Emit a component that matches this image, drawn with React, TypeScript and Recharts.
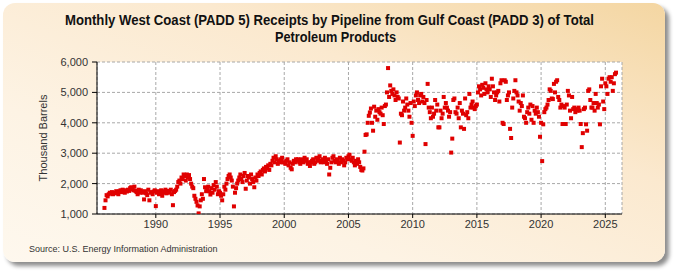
import React from 'react';
import { ScatterChart, Scatter, XAxis, YAxis, CartesianGrid } from 'recharts';

const titleLines = [
  'Monthly West Coast (PADD 5) Receipts by Pipeline from Gulf Coast (PADD 3) of Total',
  'Petroleum Products',
];
const yAxisLabel = 'Thousand Barrels';
const sourceText = 'Source: U.S. Energy Information Administration';

const startYear = 1986;
const yearTicks = [1990, 1995, 2000, 2005, 2010, 2015, 2020, 2025];
const valueTicks = [1000, 2000, 3000, 4000, 5000, 6000];

// Monthly receipts (thousand barrels), Jan..Dec of each year
const y1986 = [1200, 1450, 1620, 1580, 1650, 1700, 1680, 1720, 1650, 1700, 1680, 1750];
const y1987 = [1700, 1650, 1750, 1780, 1720, 1800, 1760, 1700, 1780, 1740, 1800, 1760];
const y1988 = [1850, 1880, 1820, 1780, 1900, 1760, 1720, 1650, 1800, 1700, 1780, 1740];
const y1989 = [1700, 1480, 1750, 1680, 1620, 1800, 1450, 1700, 1720, 1650, 1740, 1780];
const y1990 = [1260, 1700, 1750, 1650, 1720, 1780, 1600, 1700, 1750, 1800, 1680, 1760];
const y1991 = [1750, 1700, 1800, 1650, 1290, 1720, 1760, 1800, 1900, 2050, 2100, 2000];
const y1992 = [2200, 2150, 2300, 2250, 2100, 2300, 2200, 2280, 2150, 2000, 1900, 1850];
const y1993 = [1600, 1500, 1400, 1280, 1020, 1250, 1450, 1650, 1500, 2150, 1880, 1750];
const y1994 = [1800, 1900, 1750, 1640, 1850, 1700, 1950, 1800, 2050, 1900, 1650, 1750];
const y1995 = [1700, 1600, 1450, 1650, 1900, 1800, 2000, 2150, 2250, 2300, 2200, 2100];
const y1996 = [1900, 1250, 1700, 1850, 2000, 2100, 2200, 2300, 2150, 2050, 2250, 2350];
const y1997 = [1830, 2100, 2250, 2200, 2000, 2300, 2150, 2050, 1880, 2200, 2100, 2300];
const y1998 = [2250, 2350, 2400, 2300, 2450, 2500, 2400, 2550, 2500, 2600, 2450, 2650];
const y1999 = [2600, 2750, 2850, 2700, 2900, 2800, 2650, 2750, 2700, 2800, 2850, 2700];
const y2000 = [2700, 2650, 2750, 2800, 2600, 2700, 2520, 2470, 2650, 2750, 2700, 2800];
const y2001 = [2750, 2800, 2700, 2650, 2800, 2750, 2700, 2850, 2750, 2800, 2650, 2700];
const y2002 = [2580, 2700, 2750, 2800, 2650, 2700, 2850, 2750, 2800, 2900, 2700, 2750];
const y2003 = [2800, 2700, 2850, 2750, 2650, 2800, 2300, 2520, 2700, 2850, 2900, 2750];
const y2004 = [2700, 2800, 2750, 2650, 2850, 2700, 2800, 2750, 2600, 2700, 2850, 2800];
const y2005 = [2900, 2950, 2800, 2750, 2850, 2700, 2600, 2750, 2650, 2800, 2700, 2550];
const y2006 = [2450, 2430, 2500, 3050, 3600, 3620, 4000, 4230, 4340, 4470, 4000, 3740];
const y2007 = [4530, 4200, 4400, 4100, 4450, 4350, 4300, 4500, 4250, 3960, 4550, 4600];
const y2008 = [5000, 5800, 4850, 5230, 5050, 4950, 5100, 4900, 4750, 5000, 4850, 4800];
const y2009 = [3350, 4300, 4250, 4700, 4400, 4500, 4800, 4600, 4400, 4200, 4650, 4000];
const y2010 = [3570, 4700, 4550, 4900, 5000, 4750, 4650, 4900, 4950, 4700, 4850, 4650];
const y2011 = [3300, 4750, 5280, 4500, 4350, 4150, 4500, 4200, 4300, 4750, 4400, 4600];
const y2012 = [3850, 3850, 4400, 4150, 4300, 4850, 4500, 4650, 4500, 4400, 4200, 4350];
const y2013 = [3020, 3480, 4750, 4800, 4350, 4300, 4500, 4150, 4650, 3850, 4400, 4300];
const y2014 = [3800, 4800, 4250, 4350, 4150, 4950, 4500, 4600, 4700, 4500, 4450, 4550];
const y2015 = [4600, 5000, 5200, 5100, 4900, 5250, 5150, 4950, 5300, 5100, 5000, 5200];
const y2016 = [5100, 4850, 5450, 5200, 5000, 4750, 4900, 5000, 5050, 4700, 5300, 5400];
const y2017 = [4000, 3960, 5400, 5350, 4750, 4900, 5000, 3800, 3500, 4500, 4800, 5050];
const y2018 = [5400, 5000, 4900, 4700, 4400, 4650, 4550, 4900, 4200, 4150, 4000, 4350];
const y2019 = [4500, 4300, 4600, 4100, 4550, 4000, 4400, 4300, 4500, 4350, 4200, 3540];
const y2020 = [4000, 2740, 3950, 4350, 4450, 4500, 4600, 4750, 5100, 5050, 4800, 4780];
const y2021 = [5280, 5000, 5350, 5400, 4850, 4750, 4500, 4600, 3960, 4550, 4500, 3960];
const y2022 = [4600, 5050, 4900, 4400, 4150, 4850, 4450, 4500, 4350, 4450, 4400, 4500];
const y2023 = [4400, 3960, 3200, 3660, 4450, 4500, 3950, 3740, 5050, 5100, 4750, 4500];
const y2024 = [4500, 4650, 4400, 4950, 4650, 4500, 4600, 3950, 5200, 5450, 4700, 4450];
const y2025 = [5300, 5200, 4950, 5450, 5500, 5350, 5500, 5050, 5300, 5600, 5650];

const yearlySeries = [
  y1986, y1987, y1988, y1989, y1990, y1991, y1992, y1993, y1994, y1995,
  y1996, y1997, y1998, y1999, y2000, y2001, y2002, y2003, y2004, y2005,
  y2006, y2007, y2008, y2009, y2010, y2011, y2012, y2013, y2014, y2015,
  y2016, y2017, y2018, y2019, y2020, y2021, y2022, y2023, y2024, y2025,
];

const data = yearlySeries.flatMap((arr, i) =>
  arr.map((v, m) => ({ t: startYear + i + m / 12, v }))
);

const FONT = '"Liberation Sans", Arial, sans-serif';

const Square = (props: any) => {
  const { cx, cy } = props;
  if (cx == null || cy == null) return null;
  return <rect x={cx - 2} y={cy - 2} width={4} height={4} fill="#e00000" />;
};

export default function App() {
  return (
    <div style={{ position: 'absolute', left: 0, top: 0, width: 675, height: 275, background: '#fff' }}>
      <div
        style={{
          position: 'absolute',
          left: 3,
          top: 3,
          width: 662,
          height: 259,
          borderRadius: 12,
          background: 'linear-gradient(to bottom left, #f4d6a2 0%, #fbe9cf 35%, #fdf3e4 70%, #fef8ee 100%)',
          boxShadow: '4px 4px 4px rgba(0,0,0,0.45)',
        }}
      />
      <div style={{ position: 'absolute', left: 0, top: 0 }}>
        <ScatterChart width={675} height={275} margin={{ top: 62, right: 53, bottom: 31, left: 37 }}>
          <CartesianGrid fill="#ffffff" stroke="#a8a8a8" strokeDasharray="3 2" />
          <XAxis
            type="number"
            dataKey="t"
            domain={[1985.42, 2026.3]}
            ticks={yearTicks}
            allowDataOverflow
            height={30}
            tickSize={4}
            tickMargin={2}
            axisLine={{ stroke: '#000' }}
            tickLine={{ stroke: '#000' }}
            tick={{ fontSize: 11, fill: '#333', fontFamily: FONT }}
          />
          <YAxis
            type="number"
            dataKey="v"
            domain={[1000, 6000]}
            ticks={valueTicks}
            allowDataOverflow
            width={60}
            tickSize={5}
            tickMargin={4}
            axisLine={{ stroke: '#000' }}
            tickLine={{ stroke: '#000' }}
            tickFormatter={(v: number) => v.toLocaleString('en-US')}
            tick={{ fontSize: 11, fill: '#333', fontFamily: FONT }}
          />
          <Scatter data={data} shape={Square} isAnimationActive={false} />
        </ScatterChart>
      </div>
      <svg width={675} height={275} style={{ position: 'absolute', left: 0, top: 0, pointerEvents: 'none' }}>
        <text
          x={65}
          y={25}
          textLength={529}
          lengthAdjust="spacingAndGlyphs"
          fontFamily={FONT}
          fontWeight="bold"
          fontSize={14}
          fill="#111"
        >
          {titleLines[0]}
        </text>
        <text
          x={275}
          y={42}
          textLength={121}
          lengthAdjust="spacingAndGlyphs"
          fontFamily={FONT}
          fontWeight="bold"
          fontSize={14}
          fill="#111"
        >
          {titleLines[1]}
        </text>
        <text
          x={0}
          y={0}
          transform="translate(47,138) rotate(-90)"
          textAnchor="middle"
          fontFamily={FONT}
          fontSize={11}
          fill="#333"
        >
          {yAxisLabel}
        </text>
        <text x={29} y={252} fontFamily={FONT} fontSize={9} fill="#333">
          {sourceText}
        </text>
      </svg>
    </div>
  );
}
